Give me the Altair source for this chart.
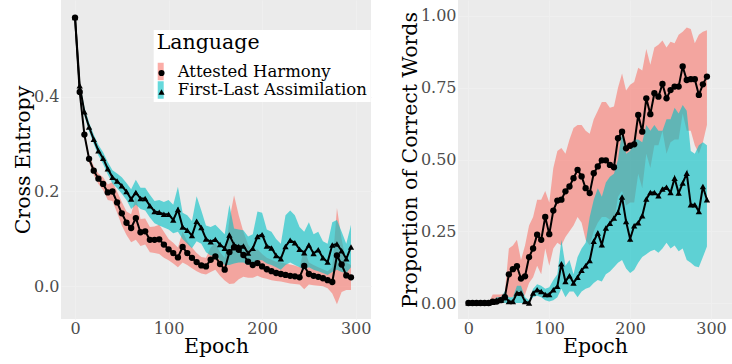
import altair as alt
import pandas as pd

epochs = [0, 5, 10, 15, 20, 25, 30, 35, 40, 45, 50, 55, 60, 65, 70, 75, 80, 85, 90, 95,
          100, 105, 110, 115, 120, 125, 130, 135, 140, 145, 150, 155, 160, 165, 170, 175, 180, 185, 190, 195,
          200, 205, 210, 215, 220, 225, 230, 235, 240, 245, 250, 255, 260, 265, 270, 275, 280, 285, 290, 295]
langs = ["Attested Harmony", "First-Last Assimilation"]
shape_keys = ["ah", "fla"]

# Cross entropy (left panel)
ce_ah = [0.567, 0.41, 0.32, 0.269, 0.244, 0.227, 0.216, 0.198, 0.2, 0.177, 0.154, 0.134, 0.123, 0.144, 0.114, 0.116, 0.098, 0.098, 0.099, 0.088,
         0.078, 0.07, 0.061, 0.083, 0.07, 0.06, 0.051, 0.044, 0.042, 0.056, 0.063, 0.047, 0.035, 0.072, 0.082, 0.077, 0.066, 0.052, 0.045, 0.049,
         0.042, 0.036, 0.032, 0.028, 0.026, 0.024, 0.022, 0.021, 0.019, 0.043, 0.026, 0.022, 0.02, 0.017, 0.013, 0.009, 0.065, 0.046, 0.023, 0.019]
ce_ah_lo = [0.562, 0.404, 0.313, 0.261, 0.235, 0.216, 0.203, 0.182, 0.18, 0.155, 0.128, 0.108, 0.093, 0.098, 0.085, 0.088, 0.072, 0.07, 0.068, 0.06,
            0.055, 0.048, 0.04, 0.05, 0.045, 0.038, 0.032, 0.027, 0.025, 0.03, 0.035, 0.022, 0.012, 0.005, 0.006, 0.015, 0.02, 0.018, 0.018, 0.022,
            0.018, 0.016, 0.013, 0.011, 0.01, 0.008, 0.006, 0.005, 0.004, -0.006, 0.004, 0.002, 0.001, 0.0, -0.004, -0.015, -0.038, -0.012, -0.008, -0.008]
ce_ah_hi = [0.572, 0.416, 0.328, 0.277, 0.254, 0.238, 0.23, 0.215, 0.22, 0.2, 0.178, 0.158, 0.152, 0.19, 0.142, 0.143, 0.125, 0.126, 0.13, 0.115,
            0.1, 0.092, 0.082, 0.115, 0.095, 0.082, 0.07, 0.062, 0.06, 0.082, 0.092, 0.072, 0.06, 0.14, 0.192, 0.15, 0.115, 0.088, 0.075, 0.078,
            0.068, 0.06, 0.056, 0.052, 0.05, 0.048, 0.046, 0.044, 0.04, 0.08, 0.05, 0.045, 0.04, 0.036, 0.032, 0.04, 0.165, 0.1, 0.05, 0.045]
ce_fla = [0.567, 0.423, 0.368, 0.336, 0.31, 0.286, 0.27, 0.248, 0.23, 0.222, 0.212, 0.2, 0.184, 0.198, 0.185, 0.185, 0.17, 0.158, 0.156, 0.152,
          0.152, 0.14, 0.162, 0.125, 0.118, 0.107, 0.137, 0.124, 0.1, 0.094, 0.099, 0.088, 0.08, 0.108, 0.088, 0.084, 0.085, 0.07, 0.08, 0.105,
          0.109, 0.085, 0.081, 0.065, 0.058, 0.084, 0.097, 0.092, 0.078, 0.071, 0.087, 0.069, 0.077, 0.06, 0.051, 0.087, 0.089, 0.075, 0.058, 0.083]
ce_fla_lo = [0.562, 0.416, 0.36, 0.327, 0.3, 0.276, 0.258, 0.236, 0.217, 0.207, 0.195, 0.182, 0.163, 0.172, 0.163, 0.16, 0.145, 0.133, 0.128, 0.124,
             0.12, 0.112, 0.115, 0.1, 0.09, 0.08, 0.095, 0.09, 0.072, 0.065, 0.065, 0.055, 0.045, 0.045, 0.048, 0.05, 0.05, 0.045, 0.045, 0.055,
             0.055, 0.048, 0.045, 0.04, 0.035, 0.045, 0.05, 0.045, 0.04, 0.035, 0.04, 0.035, 0.032, 0.028, 0.024, 0.03, 0.035, 0.03, 0.028, 0.04]
ce_fla_hi = [0.572, 0.43, 0.378, 0.346, 0.32, 0.298, 0.283, 0.262, 0.245, 0.238, 0.23, 0.218, 0.205, 0.225, 0.208, 0.208, 0.193, 0.18, 0.182, 0.178,
             0.182, 0.172, 0.21, 0.155, 0.15, 0.138, 0.19, 0.16, 0.128, 0.125, 0.13, 0.12, 0.11, 0.172, 0.122, 0.12, 0.118, 0.105, 0.11, 0.158,
             0.155, 0.12, 0.115, 0.1, 0.09, 0.15, 0.16, 0.15, 0.125, 0.115, 0.135, 0.11, 0.115, 0.095, 0.09, 0.135, 0.14, 0.115, 0.09, 0.13]

# Proportion of correct words (right panel)
acc_ah = [0, 0, 0, 0, 0, 0, 0.005, 0.005, 0.01, 0.02, 0.1, 0.118, 0.128, 0.085, 0.093, 0.16, 0.19, 0.238, 0.22, 0.3,
          0.24, 0.322, 0.357, 0.36, 0.389, 0.406, 0.435, 0.464, 0.441, 0.4, 0.383, 0.452, 0.476, 0.497, 0.497, 0.481, 0.473, 0.574, 0.597, 0.539,
          0.548, 0.553, 0.655, 0.597, 0.713, 0.658, 0.731, 0.719, 0.763, 0.713, 0.742, 0.754, 0.754, 0.824, 0.777, 0.78, 0.78, 0.725, 0.762, 0.789]
acc_ah_lo = [0, 0, 0, 0, 0, 0, 0, 0, 0, 0, 0.02, 0.02, 0.03, 0.02, 0.03, 0.07, 0.09, 0.13, 0.1, 0.19,
             0.13, 0.19, 0.21, 0.2, 0.23, 0.25, 0.27, 0.3, 0.28, 0.22, 0.2, 0.25, 0.28, 0.3, 0.3, 0.29, 0.28, 0.37, 0.39, 0.34,
             0.35, 0.35, 0.45, 0.4, 0.52, 0.47, 0.55, 0.55, 0.6, 0.52, 0.56, 0.57, 0.57, 0.66, 0.6, 0.6, 0.55, 0.52, 0.56, 0.62]
acc_ah_hi = [0, 0, 0, 0, 0, 0, 0.03, 0.03, 0.03, 0.035, 0.19, 0.2, 0.22, 0.15, 0.2, 0.27, 0.3, 0.36, 0.36, 0.39,
             0.35, 0.47, 0.53, 0.54, 0.52, 0.57, 0.61, 0.62, 0.62, 0.6, 0.59, 0.64, 0.67, 0.7, 0.7, 0.68, 0.685, 0.75, 0.8, 0.74,
             0.76, 0.77, 0.82, 0.81, 0.885, 0.83, 0.89, 0.9, 0.915, 0.89, 0.91, 0.905, 0.935, 0.945, 0.96, 0.955, 0.905, 0.935, 0.945, 0.95]
acc_fla = [0, 0, 0, 0, 0, 0, 0.003, 0.01, 0.01, 0.022, 0.005, 0.005, 0.035, 0.035, 0.005, 0.0, 0.035, 0.046, 0.04, 0.03,
           0.03, 0.046, 0.058, 0.137, 0.075, 0.095, 0.07, 0.09, 0.114, 0.13, 0.148, 0.215, 0.244, 0.203, 0.261, 0.278, 0.296, 0.316, 0.369, 0.284,
           0.223, 0.269, 0.28, 0.304, 0.362, 0.385, 0.385, 0.374, 0.397, 0.403, 0.385, 0.435, 0.383, 0.418, 0.452, 0.342, 0.342, 0.319, 0.406, 0.36]
acc_fla_lo = [0, 0, 0, 0, 0, 0, 0, 0, 0, 0, 0, 0, 0, 0, 0, 0, 0.02, 0.025, 0.02, 0.01,
              0.005, 0.01, 0.02, 0.05, 0.02, 0.04, 0.04, 0.02, 0.04, 0.05, 0.055, 0.07, 0.08, 0.075, 0.1, 0.11, 0.125, 0.14, 0.15, 0.12,
              0.105, 0.115, 0.14, 0.16, 0.17, 0.18, 0.186, 0.175, 0.19, 0.21, 0.19, 0.2, 0.18, 0.19, 0.15, 0.14, 0.128, 0.125, 0.16, 0.197]
acc_fla_hi = [0, 0, 0, 0, 0, 0, 0.01, 0.02, 0.02, 0.04, 0.02, 0.02, 0.06, 0.06, 0.02, 0.01, 0.05, 0.065, 0.06, 0.05,
              0.055, 0.08, 0.1, 0.22, 0.13, 0.15, 0.1, 0.16, 0.19, 0.21, 0.3, 0.36, 0.4, 0.37, 0.42, 0.44, 0.45, 0.5, 0.6, 0.52,
              0.53, 0.57, 0.57, 0.56, 0.62, 0.6, 0.62, 0.6, 0.6, 0.64, 0.64, 0.68, 0.66, 0.69, 0.67, 0.53, 0.52, 0.55, 0.56, 0.55]

FONT = "DejaVu Serif"
COLORS = ["#F8766D", "#00BFC4"]


def frame(m1, lo1, hi1, m2, lo2, hi2):
    rows = []
    for lang, key, m, lo, hi in [(langs[0], shape_keys[0], m1, lo1, hi1), (langs[1], shape_keys[1], m2, lo2, hi2)]:
        for e, a, b, c in zip(epochs, m, lo, hi):
            rows.append({"Epoch": e, "Language": lang, "Key": key, "mean": a, "lo": b, "hi": c})
    return pd.DataFrame(rows)


df_left = frame(ce_ah, ce_ah_lo, ce_ah_hi, ce_fla, ce_fla_lo, ce_fla_hi)
df_right = frame(acc_ah, acc_ah_lo, acc_ah_hi, acc_fla, acc_fla_lo, acc_fla_hi)


def panel(df, xdom, ydom, yvals, yfmt, ytitle, w, with_legend):
    base = alt.Chart(df)
    x = alt.X("Epoch:Q", scale=alt.Scale(domain=xdom, nice=False, zero=False),
              axis=alt.Axis(values=[0, 100, 200, 300], title="Epoch"))
    yscale = alt.Scale(domain=ydom, nice=False, zero=False)
    if with_legend:
        fill_legend = alt.Legend(
            title="Language", orient="none", legendX=92.7, legendY=30, padding=3,
            fillColor="white", titleFont=FONT, titleFontSize=20.5, titleFontWeight="normal",
            titleColor="black", titlePadding=9, labelFont=FONT, labelFontSize=16.5,
            labelColor="black", labelOffset=3, labelLimit=400,
            symbolType="M-0.914,-1H-0.229V1H-0.914Z",
            symbolSize=306, symbolStrokeWidth=0, symbolOpacity=0.6, rowPadding=0.5, zindex=1)
        shape_legend = alt.Legend(
            title=None, orient="none", legendX=97, legendY=69.5, padding=0,
            labelFont=FONT, labelFontSize=1, labelExpr="''", symbolSize=38,
            symbolFillColor="black", symbolStrokeColor="black", symbolStrokeWidth=0,
            symbolOpacity=1, rowPadding=12, zindex=2)
    else:
        fill_legend = None
        shape_legend = None
    area = base.mark_area(opacity=0.6, clip=True).encode(
        x=x,
        y=alt.Y("lo:Q", scale=yscale,
                axis=alt.Axis(title=ytitle, values=yvals, format=yfmt)),
        y2="hi:Q",
        fill=alt.Fill("Language:N", scale=alt.Scale(domain=langs, range=COLORS),
                      legend=fill_legend),
    )
    line = base.mark_line(color="black", strokeWidth=2, clip=True).encode(
        x=x, y=alt.Y("mean:Q", scale=yscale), detail="Language:N")
    pts = base.mark_point(filled=True, color="black", opacity=1, size=40, clip=True).encode(
        x=x, y=alt.Y("mean:Q", scale=yscale),
        shape=alt.Shape("Key:N", scale=alt.Scale(domain=shape_keys, range=["circle", "triangle-up"]),
                        legend=shape_legend))
    return alt.layer(area, line, pts).properties(width=w, height=319)


left = panel(df_left, [-15, 316.4], [-0.069, 0.604], [0, 0.2, 0.4], ".1f", "Cross Entropy", 310, True)
right = panel(df_right, [-12.9, 326], [-0.0557, 1.0557], [0, 0.25, 0.5, 0.75, 1.0], ".2f",
              "Proportion of Correct Words", 274, False)

chart = alt.hconcat(left, right, spacing=87, bounds="flush").resolve_scale(
    fill="independent", shape="independent"
).resolve_legend(fill="independent", shape="independent").properties(
    padding={"left": 13, "top": 0, "right": 0, "bottom": 0}, background="white"
).configure_view(fill="#EBEBEB", stroke=None).configure_axis(
    labelFont=FONT, labelFontSize=16, labelColor="#4D4D4D", ticks=False, domain=False,
    labelPadding=2, titleFont=FONT, titleFontSize=20.5, titleFontWeight="normal",
    titleColor="black", titlePadding=0, grid=True, gridColor="#EFEFEF", gridWidth=1,
).configure_axisX(labelPadding=1.5)

chart.save("out.html", embed_options={"renderer": "svg", "actions": False})
